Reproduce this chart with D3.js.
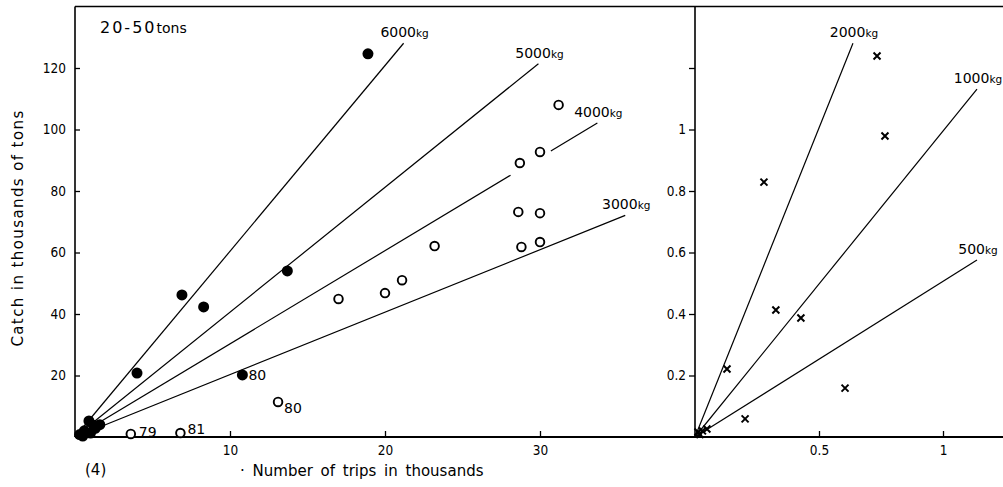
<!DOCTYPE html>
<html>
<head>
<meta charset="utf-8">
<script src="https://cdn.jsdelivr.net/npm/d3@7"></script>
<style>
    body { margin: 0; background: #fff; }
    svg { display: block; }
    .axis text { font-family: "DejaVu Sans Condensed", "Liberation Sans", sans-serif; font-size: 13.5px; fill: #000; }
    .axis line { stroke: #000; stroke-width: 1.3px; }
    .kg-label { font-family: "DejaVu Sans", sans-serif; font-size: 14px; }
    .pt-label { font-family: "DejaVu Sans", sans-serif; font-size: 14px; }
    .title { font-family: "DejaVu Sans", sans-serif; font-size: 14px; fill: #000; }
</style>
</head>
<body>
<div id="chart"></div>
<script>

// ---- left panel (20-50 tons): thousand trips vs thousand tons ----
const filledTrips = [18.9, 6.9, 8.3, 13.7, 4.0, 10.8, 0.9, 1.6, 1.3, 0.6, 0.3, 1.0, 0.5, 1.2];
const filledCatch = [124.6, 46.2, 42.3, 54.0, 20.8, 20.2, 5.2, 4.0, 2.8, 2.0, 0.8, 1.3, 0.3, 3.8];
const filledLabels = ["", "", "", "", "", "80", "", "", "", "", "", "", "", ""];

const openTrips = [3.6, 6.8, 13.1, 17.0, 20.0, 21.1, 23.2, 28.6, 30.0, 28.8, 30.0, 28.7, 30.0, 31.2];
const openCatch = [1.0, 1.3, 11.4, 44.9, 46.8, 51.0, 62.1, 73.2, 72.8, 61.8, 63.4, 89.1, 92.7, 108.0];
const openLabels = ["79", "81", "80", "", "", "", "", "", "", "", "", "", "", ""];

const leftKg = ["6000kg", "5000kg", "4000kg", "3000kg"];
const leftSlopes = [6.04, 4.06, 3.03, 2.03];
const leftEnds = [21.2, 29.9, 33.7, 35.5];
const leftGaps = [null, null, [28.1, 30.7], null];

const leftXTicks = [10, 20, 30];
const leftYTicks = [20, 40, 60, 80, 100, 120];

// ---- right panel: small values ----
const crossTrips = [0.734, 0.766, 0.278, 0.326, 0.427, 0.129, 0.202, 0.605, 0.012, 0.048, 0.03, 0.02];
const crossCatch = [1.239, 0.979, 0.829, 0.413, 0.387, 0.221, 0.059, 0.159, 0.016, 0.026, 0.02, 0.008];

const rightKg = ["2000kg", "1000kg", "500kg"];
const rightSlopes = [2.01, 0.995, 0.506];
const rightEnds = [0.637, 1.137, 1.137];

const rightXTicks = [0.5, 1];
const rightYTicks = [0.2, 0.4, 0.6, 0.8, 1, 1.2];

// ---------------------------------------------------------------

const width = 1003, height = 487;
const plotTop = 6.5, plotBottom = 437;

const svg = d3.select("#chart").append("svg")
    .attr("width", width)
    .attr("height", height);

// scales
const xL = d3.scaleLinear().domain([0, 40]).range([75, 695]);
const yL = d3.scaleLinear().domain([0, 140]).range([plotBottom, plotTop]);
const xR = d3.scaleLinear().domain([0, 1.25]).range([695, 1005]);
const yR = d3.scaleLinear().domain([0, 1.4]).range([plotBottom, plotTop]);

// axes (domain paths removed, frame drawn separately)
svg.append("g")
    .attr("class", "axis")
    .attr("transform", `translate(${xL(0)},0)`)
    .call(d3.axisLeft(yL).tickValues(leftYTicks).tickSize(-5).tickPadding(9))
    .select(".domain").remove();

svg.append("g")
    .attr("class", "axis")
    .attr("transform", `translate(0,${plotBottom})`)
    .call(d3.axisBottom(xL).tickValues(leftXTicks).tickSize(-6).tickPadding(8))
    .select(".domain").remove();

svg.append("g")
    .attr("class", "axis")
    .attr("transform", `translate(${xR(0)},0)`)
    .call(d3.axisLeft(yR).tickValues(rightYTicks).tickSize(6).tickPadding(3)
        .tickFormat(d => d > 1.1 ? "" : d3.format("~g")(d)))
    .select(".domain").remove();

svg.append("g")
    .attr("class", "axis")
    .attr("transform", `translate(0,${plotBottom})`)
    .call(d3.axisBottom(xR).tickValues(rightXTicks).tickSize(-6).tickPadding(8)
        .tickFormat(d3.format("~g")))
    .select(".domain").remove();

// frame
const frame = svg.append("g").attr("stroke", "#000").attr("fill", "none");
frame.append("line").attr("x1", xL(0)).attr("x2", width).attr("y1", plotTop).attr("y2", plotTop).attr("stroke-width", 1.6);
frame.append("line").attr("x1", xL(0)).attr("x2", width).attr("y1", plotBottom).attr("y2", plotBottom).attr("stroke-width", 2);
frame.append("line").attr("x1", xL(0)).attr("x2", xL(0)).attr("y1", plotTop).attr("y2", plotBottom).attr("stroke-width", 1.6);
frame.append("line").attr("x1", xR(0)).attr("x2", xR(0)).attr("y1", plotTop).attr("y2", plotBottom).attr("stroke-width", 1.6);

// reference lines (kg per trip)
function drawKgLines(names, slopes, ends, gaps, x, y) {
    let g = svg.append("g");
    names.forEach(function(name, i) {
        let k = slopes[i];
        let segs = [[0, ends[i]]];
        if (gaps && gaps[i]) segs = [[0, gaps[i][0]], [gaps[i][1], ends[i]]];
        segs.forEach(s => {
            g.append("line")
                .attr("x1", x(s[0])).attr("y1", y(k * s[0]))
                .attr("x2", x(s[1])).attr("y2", y(k * s[1]))
                .attr("stroke", "#000")
                .attr("stroke-width", 1.2);
        });
        let m = name.match(/^(\d+)(kg)$/);
        let t = g.append("text")
            .attr("class", "kg-label")
            .attr("x", x(ends[i]) + 1)
            .attr("y", y(k * ends[i]) - 6)
            .attr("text-anchor", "middle");
        t.append("tspan").text(m[1]);
        t.append("tspan").style("font-size", "10.5px").text(m[2]);
    });
}
drawKgLines(leftKg, leftSlopes, leftEnds, leftGaps, xL, yL);
drawKgLines(rightKg, rightSlopes, rightEnds, null, xR, yR);

// markers
const filled = filledTrips.map((d, i) => ({x: d, y: filledCatch[i], label: filledLabels[i]}));
const open = openTrips.map((d, i) => ({x: d, y: openCatch[i], label: openLabels[i]}));
const crosses = crossTrips.map((d, i) => ({x: d, y: crossCatch[i]}));

svg.append("g").selectAll("circle")
    .data(filled)
    .enter().append("circle")
    .attr("cx", d => xL(d.x))
    .attr("cy", d => yL(d.y))
    .attr("r", 5.5)
    .attr("fill", "#000");

svg.append("g").selectAll("circle")
    .data(open)
    .enter().append("circle")
    .attr("cx", d => xL(d.x))
    .attr("cy", d => yL(d.y))
    .attr("r", 4.3)
    .attr("fill", "#fff")
    .attr("stroke", "#000")
    .attr("stroke-width", 1.9);

svg.append("g").selectAll("path")
    .data(crosses)
    .enter().append("path")
    .attr("transform", d => `translate(${xR(d.x)},${yR(d.y)})`)
    .attr("d", "M-3.5,-3.5L3.5,3.5M-3.5,3.5L3.5,-3.5")
    .attr("stroke", "#000")
    .attr("stroke-width", 2);

// year labels beside some points
const labelShift = {"80f": [6, 5], "79": [8, 3], "81": [7, 1], "80o": [6, 11]};
filled.filter(d => d.label).forEach(d => {
    svg.append("text").attr("class", "pt-label")
        .attr("x", xL(d.x) + labelShift["80f"][0])
        .attr("y", yL(d.y) + labelShift["80f"][1])
        .text(d.label);
});
open.filter(d => d.label).forEach(d => {
    let s = d.label === "80" ? labelShift["80o"] : labelShift[d.label];
    svg.append("text").attr("class", "pt-label")
        .attr("x", xL(d.x) + s[0])
        .attr("y", yL(d.y) + s[1])
        .text(d.label);
});

// titles
let tt = svg.append("text")
    .attr("class", "title")
    .attr("x", 100)
    .attr("y", 33);
tt.append("tspan").style("font-size", "16px").attr("letter-spacing", 2).text("20-50");
tt.append("tspan").style("font-size", "14px").text("tons");

svg.append("text")
    .attr("class", "title")
    .attr("transform", "translate(23,228) rotate(-90)")
    .attr("text-anchor", "middle")
    .style("font-size", "15px")
    .attr("letter-spacing", 1.4)
    .text("Catch in thousands of tons");

svg.append("text")
    .attr("class", "title")
    .attr("x", 240)
    .attr("y", 476)
    .style("font-size", "15px")
    .attr("word-spacing", 3)
    .text("· Number of trips in thousands");

svg.append("text")
    .attr("class", "title")
    .attr("x", 85)
    .attr("y", 475)
    .style("font-size", "15px")
    .text("(4)");

</script>
</body>
</html>
